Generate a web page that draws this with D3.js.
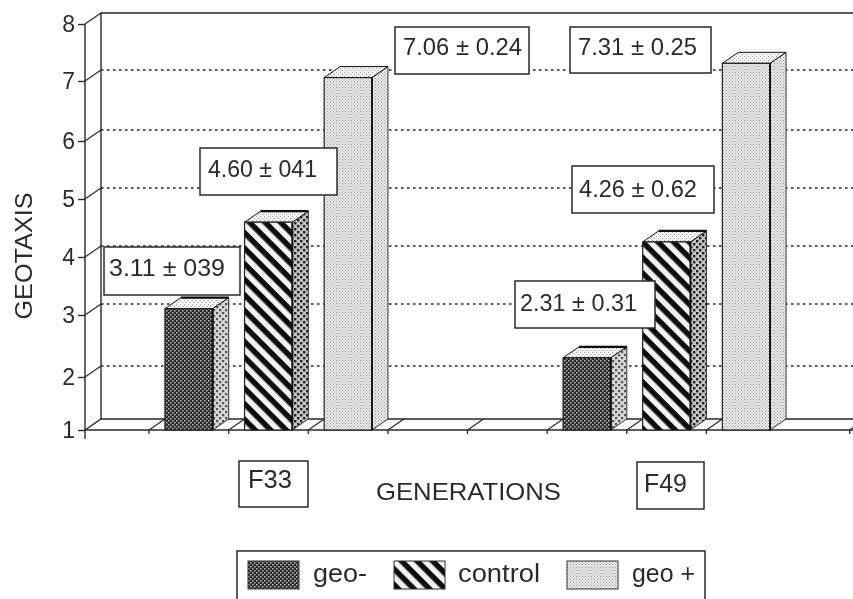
<!DOCTYPE html>
<html>
<head>
<meta charset="utf-8">
<script src="https://cdn.jsdelivr.net/npm/d3@7"></script>
<style>
  html, body { margin: 0; padding: 0; background: #fff; overflow: hidden; }
  text { font-family: "Liberation Sans", Arial, sans-serif; fill: #2c2c2c; }
</style>
</head>
<body>
<div id="chart"></div>
<script>
const width = 853;
const height = 599;

// data
const slots = ['F33 geo-', 'F33 control', 'F33 geo+', 'gap a', 'gap b', 'F49 geo-', 'F49 control', 'F49 geo+'];
const barSlots = ['F33 geo-', 'F33 control', 'F33 geo+', 'F49 geo-', 'F49 control', 'F49 geo+'];
const barSeries = ['geo-', 'control', 'geo+', 'geo-', 'control', 'geo+'];
const barValues = [3.11, 4.60, 7.06, 2.31, 4.26, 7.31];
const yTicks = [1, 2, 3, 4, 5, 6, 7, 8];
const gridTicks = [2, 3, 4, 5, 6, 7];
const seriesNames = ['geo-', 'control', 'geo+'];
const legendLabels = ['geo-', 'control', 'geo +'];
const valueLabels = ['3.11 ± 039', '4.60 ± 041', '7.06 ± 0.24', '7.31 ± 0.25', '4.26 ± 0.62', '2.31 ± 0.31'];
const generations = ['F33', 'F49'];

// layout of the hand placed boxes: x, y, w, h, text x, text baseline, text width
const valueBoxes = [
  [104, 247, 136, 48, 109, 276, 116],
  [200, 148, 137, 47, 208, 177, 109],
  [395, 27, 134, 47, 403, 55, 119],
  [570, 27, 141, 46, 578, 55, 119],
  [572, 166, 142, 47, 579, 197, 118],
  [515, 281, 140, 47, 520, 311, 117]
];
const generationBoxes = [
  [239, 461, 69, 46, 248, 488, 44],
  [637, 462, 67, 47, 644, 492, 43]
];
const legendSwatches = [248, 394, 567];
const legendTexts = [313, 458, 632];
const legendWidths = [54, 82, 63];

const depthX = 16;
const depthY = -11;

// the scan is a little uneven, so the axis stops are set one by one
const y = d3.scaleLinear().domain(yTicks).range([430, 377, 315, 257, 199, 141, 81, 24]);
const x = d3.scaleBand().domain(slots).range([149, 786]).paddingInner(0.4).paddingOuter(0.2);
const step = x.step();

const svg = d3.select('#chart').append('svg')
  .attr('width', width)
  .attr('height', height)
  .style('display', 'block');

const defs = svg.append('defs');

defs.append('filter').attr('id', 'scan')
  .attr('x', 0).attr('y', 0).attr('width', 1).attr('height', 1)
  .append('feGaussianBlur').attr('stdDeviation', 0.5);

function dither(id, size, bg, fg, cells) {
  const p = defs.append('pattern').attr('id', id)
    .attr('patternUnits', 'userSpaceOnUse')
    .attr('width', size).attr('height', size);
  p.append('rect').attr('width', size).attr('height', size).attr('fill', bg);
  cells.forEach(c => {
    p.append('rect').attr('x', c[0]).attr('y', c[1]).attr('width', c[2]).attr('height', c[2]).attr('fill', fg);
  });
}

dither('darkFront', 4, '#2b2b2b', '#bdbdbd', [[0, 0, 1.5], [2, 2, 1.5]]);
dither('darkSide', 6, '#d6d6d6', '#555555', [[0, 0, 2.2], [3, 3, 2.2]]);
dither('midSide', 6, '#c4c4c4', '#222222', [[0, 0, 2.4], [3, 3, 2.4]]);
dither('lightDots', 3, '#ededed', '#9a9a9a', [[0, 0, 1], [1.5, 1.5, 1]]);
dither('topDots', 4, '#f2f2f2', '#a8a8a8', [[0, 0, 1], [2, 2, 1]]);

const stripes = defs.append('pattern').attr('id', 'stripes')
  .attr('patternUnits', 'userSpaceOnUse')
  .attr('width', 11).attr('height', 11)
  .attr('patternTransform', 'rotate(45)');
stripes.append('rect').attr('width', 11).attr('height', 11).attr('fill', '#f4f4f4');
stripes.append('rect').attr('width', 11).attr('height', 5.5).attr('fill', '#0c0c0c');

const faceFill = { 'geo-': 'url(#darkFront)', control: 'url(#stripes)', 'geo+': 'url(#lightDots)' };
const sideFill = { 'geo-': 'url(#darkSide)', control: 'url(#midSide)', 'geo+': 'url(#lightDots)' };

const g = svg.append('g').attr('filter', 'url(#scan)');
const ink = '#2a2a2a';

// walls and floor
const left = 85;
const backX = left + depthX;
g.append('path')
  .attr('d', `M${backX},${y(1) + depthY}V${y(8) + depthY}H${width}`)
  .attr('fill', 'none').attr('stroke', ink).attr('stroke-width', 1.4);
g.append('path')
  .attr('d', `M${left},${y(1)}L${backX},${y(1) + depthY}H${width}`)
  .attr('fill', 'none').attr('stroke', ink).attr('stroke-width', 1.4);
g.append('line')
  .attr('x1', left).attr('x2', width).attr('y1', y(1)).attr('y2', y(1))
  .attr('stroke', ink).attr('stroke-width', 1.4);

g.selectAll('.grid').data(gridTicks).enter().append('line')
  .attr('class', 'grid')
  .attr('x1', backX).attr('x2', width)
  .attr('y1', d => y(d) + depthY).attr('y2', d => y(d) + depthY)
  .attr('stroke', '#222').attr('stroke-width', 1.4).attr('stroke-dasharray', '2.5 3.5');

// slanted links from the axis to the back wall
g.selectAll('.link').data(yTicks.slice(1)).enter().append('line')
  .attr('class', 'link')
  .attr('x1', left).attr('x2', backX)
  .attr('y1', d => y(d)).attr('y2', d => y(d) + depthY)
  .attr('stroke', ink).attr('stroke-width', 1.2);

// floor ticks, the one behind the last bar does not show in the picture
const floorTicks = slots.map(s => x(s) - step * 0.2).concat([x('F49 geo+') + step * 1.6]);
g.selectAll('.floorTick').data(floorTicks).enter().append('path')
  .attr('class', 'floorTick')
  .attr('d', d => `M${d},${y(1) + 4}V${y(1)}L${d + depthX},${y(1) + depthY}`)
  .attr('fill', 'none').attr('stroke', ink).attr('stroke-width', 1.3);

// y axis
const axis = g.append('g')
  .attr('transform', `translate(${left},0)`)
  .call(d3.axisLeft(y).tickValues(yTicks).tickSize(7).tickPadding(3).tickFormat(d3.format('d')));
axis.select('.domain').attr('d', `M0,${y(8)}V${y(1) + 9}`).attr('stroke', ink).attr('stroke-width', 1.4);
axis.selectAll('.tick line').attr('stroke', ink).attr('stroke-width', 1.4);
axis.selectAll('.tick text')
  .style('font-family', '"Liberation Sans", Arial, sans-serif')
  .style('font-size', '23px')
  .style('fill', '#2c2c2c');

// bars
const bars = g.selectAll('.bar').data(barValues).enter().append('g').attr('class', 'bar');
const barX = i => x(barSlots[i]);
const bw = x.bandwidth();

bars.append('path')
  .attr('d', (d, i) => `M${barX(i) + bw},${y(d)}l${depthX},${depthY}V${y(1) + depthY}L${barX(i) + bw},${y(1)}Z`)
  .attr('fill', (d, i) => sideFill[barSeries[i]])
  .attr('stroke', '#333').attr('stroke-width', 1);

bars.append('path')
  .attr('d', (d, i) => `M${barX(i)},${y(d)}l${depthX},${depthY}h${bw}l${-depthX},${-depthY}Z`)
  .attr('fill', 'url(#topDots)')
  .attr('stroke', '#111').attr('stroke-width', 1);

// heavy back edge on the top of the darker bars
bars.filter((d, i) => barSeries[i] !== 'geo+').append('line')
  .attr('x1', function () { return barX(barValues.indexOf(d3.select(this).datum())) + depthX; })
  .attr('x2', function () { return barX(barValues.indexOf(d3.select(this).datum())) + depthX + bw; })
  .attr('y1', d => y(d) + depthY)
  .attr('y2', d => y(d) + depthY)
  .attr('stroke', '#0c0c0c').attr('stroke-width', 2.2);

bars.append('rect')
  .attr('x', (d, i) => barX(i))
  .attr('y', d => y(d))
  .attr('width', bw)
  .attr('height', d => y(1) - y(d))
  .attr('fill', (d, i) => faceFill[barSeries[i]])
  .attr('stroke', '#222').attr('stroke-width', 1.2);

bars.append('line')
  .attr('x1', (d, i) => barX(i) + bw)
  .attr('x2', (d, i) => barX(i) + bw)
  .attr('y1', d => y(d))
  .attr('y2', y(1))
  .attr('stroke', '#111').attr('stroke-width', 1.8);

// boxes with text
function labelBox(box, label, size) {
  g.append('rect')
    .attr('x', box[0]).attr('y', box[1]).attr('width', box[2]).attr('height', box[3])
    .attr('fill', '#fff').attr('stroke', ink).attr('stroke-width', 1.5);
  g.append('text')
    .attr('x', box[4]).attr('y', box[5])
    .attr('textLength', box[6]).attr('lengthAdjust', 'spacingAndGlyphs')
    .style('font-size', size + 'px')
    .text(label);
}

valueLabels.forEach((label, i) => labelBox(valueBoxes[i], label, 24));
generations.forEach((label, i) => labelBox(generationBoxes[i], label, 25));

g.append('text')
  .attr('x', 376).attr('y', 500)
  .style('font-size', '24px')
  .attr('textLength', 185).attr('lengthAdjust', 'spacingAndGlyphs')
  .text('GENERATIONS');

g.append('text')
  .attr('transform', 'translate(32,256) rotate(-90)')
  .attr('text-anchor', 'middle')
  .style('font-size', '24px')
  .attr('textLength', 127).attr('lengthAdjust', 'spacingAndGlyphs')
  .text('GEOTAXIS');

// legend, its lower edge runs off the picture
g.append('rect')
  .attr('x', 237).attr('y', 551).attr('width', 468).attr('height', 60)
  .attr('fill', '#fff').attr('stroke', ink).attr('stroke-width', 1.5);

seriesNames.forEach((name, i) => {
  g.append('rect')
    .attr('x', legendSwatches[i]).attr('y', 561).attr('width', 51).attr('height', 28)
    .attr('fill', faceFill[name]).attr('stroke', '#333').attr('stroke-width', 1);
  g.append('text')
    .attr('x', legendTexts[i]).attr('y', 582)
    .attr('textLength', legendWidths[i]).attr('lengthAdjust', 'spacingAndGlyphs')
    .style('font-size', '25px')
    .text(legendLabels[i]);
});
</script>
</body>
</html>
